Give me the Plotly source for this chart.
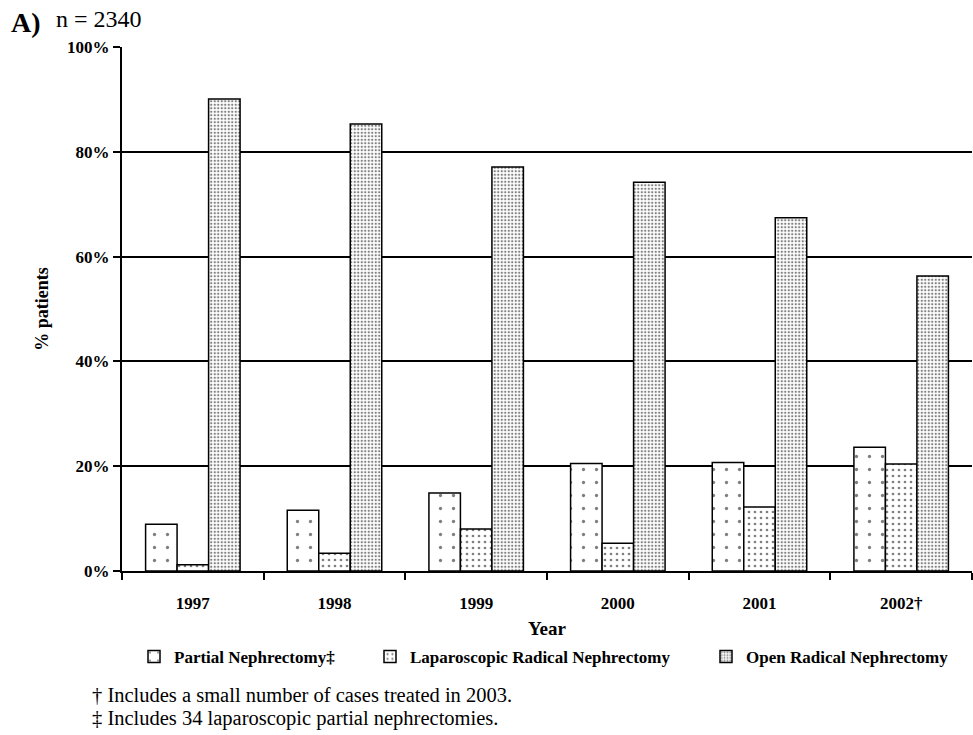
import plotly.graph_objects as go

years = ["1997", "1998", "1999", "2000", "2001", "2002†"]
partial = [8.9, 11.6, 14.9, 20.5, 20.7, 23.6]
laparoscopic = [1.2, 3.4, 8.0, 5.3, 12.2, 20.4]
open_radical = [90.1, 85.3, 77.1, 74.2, 67.4, 56.3]
series_names = ["Partial Nephrectomy‡", "Laparoscopic Radical Nephrectomy", "Open Radical Nephrectomy"]
y_ticks = [0, 20, 40, 60, 80, 100]

W, H = 973, 735
FONT = "Liberation Serif, Times New Roman, serif"

patterns = [
    dict(shape=".", size=13, solidity=0.05, fgcolor="black", bgcolor="white"),
    dict(shape=".", size=6, solidity=0.16, fgcolor="black", bgcolor="white"),
    dict(shape=".", size=3.5, solidity=0.35, fgcolor="black", bgcolor="white"),
]

fig = go.Figure()
legends = ["legend", "legend2", "legend3"]
for name, vals, pat, lg in zip(series_names, [partial, laparoscopic, open_radical], patterns, legends):
    fig.add_trace(go.Bar(
        x=years, y=vals, name=f"<b>{name}</b>", legend=lg,
        marker=dict(color="white", pattern=pat, line=dict(color="black", width=1.5)),
    ))

leg_x = [134, 370, 706]
leg_common = dict(orientation="h", xref="container", yref="container",
                  xanchor="left", yanchor="middle", y=1 - 657 / H,
                  font=dict(family=FONT, size=17, color="black"),
                  bgcolor="rgba(0,0,0,0)", itemwidth=30)
layout_legends = {}
for lg, x in zip(legends, leg_x):
    layout_legends[lg] = dict(leg_common, x=x / W)

fig.update_layout(
    width=W, height=H, autosize=False,
    margin=dict(l=122, r=1, t=47, b=H - 571),
    paper_bgcolor="white", plot_bgcolor="white",
    barmode="group", bargap=0.333, bargroupgap=0,
    font=dict(family=FONT, color="black"),
    showlegend=True,
    **layout_legends,
)

fig.update_xaxes(
    type="category", tickson="boundaries", ticks="outside", ticklen=7, tickwidth=2, tickcolor="black",
    showline=True, linecolor="black", linewidth=2, showgrid=False, ticklabelstandoff=16,
    tickfont=dict(family=FONT, size=17, color="black", weight="bold"),
    title=dict(text="<b>Year</b>", font=dict(family=FONT, size=19, color="black"), standoff=12),
)
fig.update_yaxes(
    range=[0, 100], tickvals=y_ticks, ticktext=[f"{v}%" for v in y_ticks],
    ticks="outside", ticklen=7, tickwidth=2, tickcolor="black",
    showline=True, linecolor="black", linewidth=2,
    showgrid=True, gridcolor="black", gridwidth=2, zeroline=False,
    tickfont=dict(family=FONT, size=17, color="black", weight="bold"),
    title=dict(text="<b>% patients</b>", font=dict(family=FONT, size=18, color="black"), standoff=14),
)

fig.add_annotation(xref="paper", yref="paper", x=(9 - 122) / 850, y=1 + (47 - 22) / 524,
                   xanchor="left", yanchor="middle",
                   text="<b>A)</b>", showarrow=False, font=dict(family=FONT, size=28, color="black"))
fig.add_annotation(xref="paper", yref="paper", x=(54 - 122) / 850, y=1 + (47 - 19) / 524,
                   xanchor="left", yanchor="middle",
                   text="n = 2340", showarrow=False, font=dict(family=FONT, size=24, color="black"))

foot = ["† Includes a small number of cases treated in 2003.",
        "‡ Includes 34 laparoscopic partial nephrectomies."]
for i, t in enumerate(foot):
    fig.add_annotation(xref="paper", yref="paper", x=(90 - 122) / 850, y=-(695 + 23 * i - 571) / 524,
                       xanchor="left", yanchor="middle", text=t, showarrow=False,
                       font=dict(family=FONT, size=20.5, color="black"))

fig.write_html("out.html", config={"displayModeBar": False},
               post_script="document.body.style.margin='0';document.body.style.padding='0';")
